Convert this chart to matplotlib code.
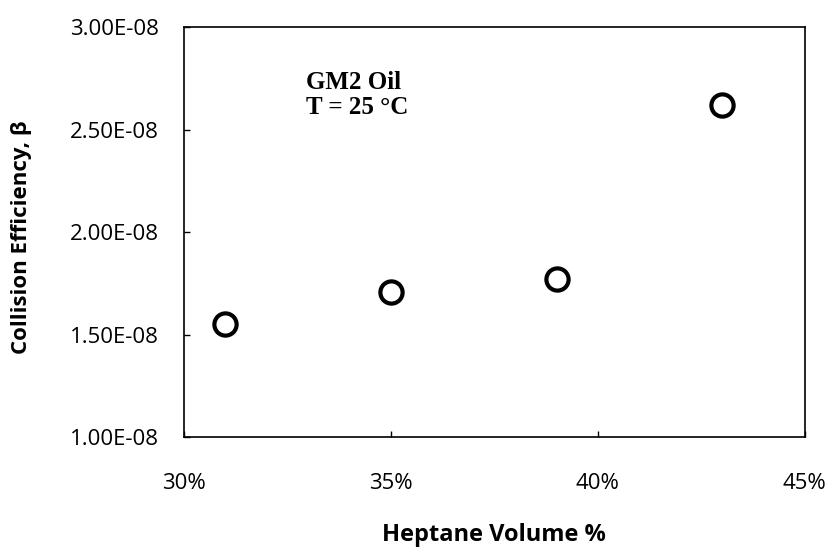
import matplotlib
matplotlib.use("Agg")
import matplotlib.pyplot as plt
from matplotlib.ticker import FuncFormatter

heptane_pct = [31, 35, 39, 43]
collision_eff = [1.55e-08, 1.71e-08, 1.77e-08, 2.62e-08]

x_ticks = [30, 35, 40, 45]
y_ticks = [1.0e-08, 1.5e-08, 2.0e-08, 2.5e-08, 3.0e-08]

plt.rcParams["font.family"] = ["Open Sans", "DejaVu Sans"]

fig = plt.figure(figsize=(8.3, 5.5), dpi=100)
ax = fig.add_axes([0.2217, 0.2055, 0.748, 0.745])

ax.plot(heptane_pct, collision_eff, linestyle="none", marker="o",
        markersize=16, markerfacecolor="white", markeredgecolor="black",
        markeredgewidth=3, clip_on=False)

ax.set_xlim(30, 45)
ax.set_ylim(1.0e-08, 3.0e-08)
ax.set_xticks(x_ticks)
ax.set_yticks(y_ticks)
ax.xaxis.set_major_formatter(FuncFormatter(lambda v, p: f"{v:.0f}%"))
ax.yaxis.set_major_formatter(FuncFormatter(lambda v, p: f"{v:.2E}"))

ax.tick_params(axis="both", direction="in", length=4, width=1, labelsize=16)
ax.tick_params(axis="x", pad=26)
ax.tick_params(axis="y", pad=18)
for s in ax.spines.values():
    s.set_linewidth(1.2)

ax.set_xlabel("Heptane Volume %", fontsize=17, fontweight="bold", va="center")
ax.set_ylabel("Collision Efficiency, β", fontsize=16, fontweight="bold", va="center")
ax.xaxis.set_label_coords(0.5, -0.239)
ax.yaxis.set_label_coords(-0.261, 0.488)

ax.text(0.197, 0.834, "GM2 Oil\nT = 25 °C", transform=ax.transAxes,
        family="Liberation Serif", fontweight="bold", fontsize=18,
        va="center", ha="left", linespacing=1.1)

fig.savefig("out.png", dpi=100)
